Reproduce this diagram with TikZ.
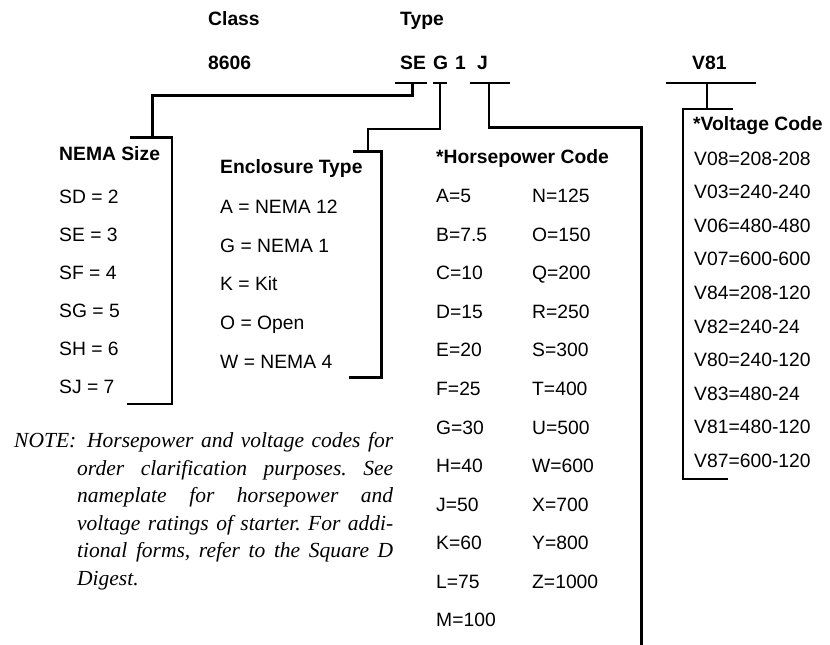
\documentclass[tikz,border=0pt]{standalone}
\usepackage{fontspec}
\setmainfont{Liberation Sans}
\newfontfamily\notefont{Liberation Serif}
\begin{document}
\begin{tikzpicture}[x=1pt,y=-1pt]
\tikzset{
  lbl/.style={anchor=base west, inner sep=0pt, font=\fontsize{19.3}{23}\selectfont},
  hdr/.style={anchor=base west, inner sep=0pt, font=\fontsize{19.3}{23}\selectfont\bfseries},
  brk/.style={line width=2.8pt, line join=miter, line cap=butt},
}
\useasboundingbox (0,0) rectangle (830,645);
% top labels
\node[hdr] (class) at (208,25) {Class};
\node[hdr] (type) at (400,25) {Type};
\node[hdr] (num) at (208,69) {8606};
\node[hdr] (se) at (400,69) {SE};
\node[hdr] (g) at (433,69) {G};
\node[hdr] (one) at (455,69) {1};
\node[hdr] (j) at (477,69) {J};
\node[hdr] (v81) at (692,69) {V81};
% NEMA size
\node[hdr] (nemah) at (59,160.7) {NEMA Size};
\foreach [count=\i from 0] \t in {SD = 2,SE = 3,SF = 4,SG = 5,SH = 6,SJ = 7}
  \node[lbl] (nema\i) at (59,{203.3+38*\i}) {\t};
% Enclosure
\node[hdr] (ench) at (220,173.3) {Enclosure Type};
\foreach [count=\i from 0] \t in {A = NEMA 12,G = NEMA 1,K = Kit,O = Open,W = NEMA 4}
  \node[lbl] (enc\i) at (220,{213.3+38.75*\i}) {\t};
% Horsepower
\node[hdr] (hph) at (436,163.3) {*Horsepower Code};
\foreach [count=\i from 0] \t in {A=5,B=7.5,C=10,D=15,E=20,F=25,G=30,H=40,J=50,K=60,L=75,M=100}
  \node[lbl] (hpa\i) at (436,{202.7+38.55*\i}) {\t};
\foreach [count=\i from 0] \t in {N=125,O=150,Q=200,R=250,S=300,T=400,U=500,W=600,X=700,Y=800,Z=1000}
  \node[lbl] (hpb\i) at (532,{202.7+38.55*\i}) {\t};
% Voltage
\node[hdr] (volh) at (693,130.7) {*Voltage Code};
\foreach [count=\i from 0] \t in {V08=208-208,V03=240-240,V06=480-480,V07=600-600,V84=208-120,V82=240-24,V80=240-120,V83=480-24,V81=480-120,V87=600-120}
  \node[lbl] (vol\i) at (694,{165+33.6*\i}) {\t};
% Note
\node[anchor=base west, inner sep=0pt, font=\notefont\itshape\fontsize{21.5}{27.5}\selectfont] (note) at (14,447.5)
 {\parbox[t]{379pt}{\frenchspacing\baselineskip=27.5pt
  \hbox to 379pt{\makebox[73pt][l]{NOTE:}Horsepower and voltage codes for}
  \hbox to 379pt{\hskip63pt order clarification purposes. See}
  \hbox to 379pt{\hskip63pt nameplate for horsepower and}
  \hbox to 379pt{\hskip63pt voltage ratings of starter. For addi-}
  \hbox to 379pt{\hskip63pt tional forms, refer to the Square D}
  \hbox{\hskip63pt Digest.}}};
% bracket points
\coordinate (seL) at (395,83); \coordinate (seR) at (427,83); \coordinate (seS) at (412.7,83);
\coordinate (seK) at (412.7,95.7); \coordinate (nK) at (152.7,95.7); \coordinate (nT) at (152.7,137.3);
\coordinate (nA) at (130,137.3); \coordinate (nB) at (172,137.3); \coordinate (nC) at (172,404); \coordinate (nD) at (127,404);
\coordinate (gL) at (433,83); \coordinate (gR) at (447,83); \coordinate (gS) at (440,83);
\coordinate (gK) at (440,129); \coordinate (eK) at (368,129); \coordinate (eT) at (368,151.7);
\coordinate (eA) at (353,151.7); \coordinate (eB) at (381.7,151.7); \coordinate (eC) at (381.7,377.3); \coordinate (eD) at (349,377.3);
\coordinate (jL) at (470,83); \coordinate (jR) at (510,83); \coordinate (jS) at (489,83);
\coordinate (jK) at (489,127.5); \coordinate (hK) at (641.7,127.5); \coordinate (hB) at (641.7,647);
\coordinate (vL) at (666,83); \coordinate (vR) at (756,83); \coordinate (vS) at (707,83); \coordinate (vT) at (707,109);
\coordinate (vA) at (733,109); \coordinate (vB) at (683,109); \coordinate (vC) at (683,479); \coordinate (vD) at (728,479);
% brackets
\draw[brk] (seL) -- (seR);
\draw[brk] (seS) -- (seK) -- (nK) -- (nT);
\draw[brk] (nA) -- (nB) -- (nC) -- (nD);
\draw[brk] (gL) -- (gR);
\draw[brk] (gS) -- (gK) -- (eK) -- (eT);
\draw[brk] (eA) -- (eB) -- (eC) -- (eD);
\draw[brk] (jL) -- (jR);
\draw[brk] (jS) -- (jK) -- (hK) -- (hB);
\draw[brk] (vL) -- (vR);
\draw[brk] (vS) -- (vT);
\draw[brk] (vA) -- (vB) -- (vC) -- (vD);
\end{tikzpicture}
\end{document}
